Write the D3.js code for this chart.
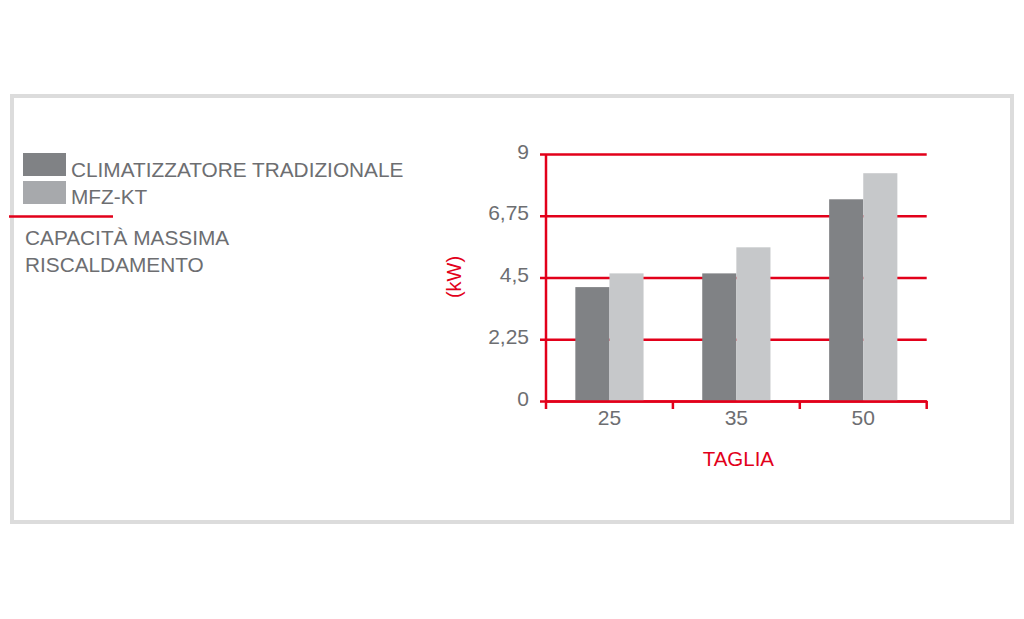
<!DOCTYPE html>
<html>
<head>
<meta charset="utf-8">
<script src="https://cdn.jsdelivr.net/npm/d3@7"></script>
<style>
  body { margin: 0; background: #fff; }
  svg { display: block; font-family: "Liberation Sans", Arial, sans-serif; }
</style>
</head>
<body>
<script>
// Data
const sizes = ["25", "35", "50"];
const seriesNames = ["CLIMATIZZATORE TRADIZIONALE", "MFZ-KT"];
const traditional = [4.15, 4.65, 7.35];
const mfzkt = [4.65, 5.6, 8.3];
const yTicks = [0, 2.25, 4.5, 6.75, 9];
const noteLines = ["CAPACITÀ MASSIMA", "RISCALDAMENTO"];

const rows = sizes.map((s, i) => ({ size: s, values: [traditional[i], mfzkt[i]] }));

// Dimensions
const width = 1024;
const height = 619;
const plotLeft = 546;
const plotRight = 926.7;
const plotTop = 154;
const plotBottom = 401;

const red = "#e2001a";
const grey = "#6d6e71";
const barColors = ["#808285", "#c6c8ca"];
const swatchColors = ["#808285", "#a7a9ac"];

// SCALE
const x0 = d3.scaleBand().domain(sizes).range([plotLeft, plotRight]).padding(0);
const x1 = d3.scaleBand().domain([0, 1]).range([0, x0.bandwidth()]).paddingInner(0).paddingOuter(0.86);
const y = d3.scaleLinear().domain([0, 9]).range([plotBottom, plotTop]);

const svg = d3.select("body").append("svg")
    .attr("width", width)
    .attr("height", height);

// FRAME
svg.append("rect")
    .attr("x", 12).attr("y", 96)
    .attr("width", 1000).attr("height", 426)
    .attr("fill", "none")
    .attr("stroke", "#dcdcdc")
    .attr("stroke-width", 4);

// GRIDLINES + Y LABELS
const yAxis = svg.append("g")
    .attr("transform", `translate(${plotLeft - 6},0)`)
    .call(d3.axisLeft(y)
        .tickValues(yTicks)
        .tickSize(-(plotRight - plotLeft + 6))
        .tickPadding(11)
        .tickFormat(d => String(d).replace(".", ",")));
yAxis.select(".domain").remove();
yAxis.selectAll(".tick line").attr("stroke", red).attr("stroke-width", 2.5);
yAxis.selectAll(".tick text")
    .attr("fill", grey)
    .attr("font-size", 21)
    .attr("dy", "0.2em");

// y axis line
svg.append("line")
    .attr("x1", plotLeft).attr("x2", plotLeft)
    .attr("y1", y(9)).attr("y2", y(0))
    .attr("stroke", red).attr("stroke-width", 2.5);

// BARS
svg.append("g")
    .selectAll("g")
    .data(rows)
    .join("g")
    .attr("transform", d => `translate(${x0(d.size)},0)`)
    .selectAll("rect")
    .data(d => d.values.map((v, i) => ({ i, v })))
    .join("rect")
    .attr("x", d => x1(d.i))
    .attr("width", x1.bandwidth())
    .attr("y", d => y(d.v))
    .attr("height", d => y(0) - y(d.v))
    .attr("fill", d => barColors[d.i]);

// X AXIS
const xAxis = svg.append("g")
    .attr("transform", `translate(0,${plotBottom})`)
    .call(d3.axisBottom(x0).tickSize(0).tickSizeOuter(0).tickPadding(9));
xAxis.select(".domain").attr("stroke", red).attr("stroke-width", 2.5);
xAxis.selectAll(".tick text").attr("fill", grey).attr("font-size", 21);

// boundary ticks
const bounds = sizes.map(s => x0(s)).concat([x0.range()[1]]);
svg.append("g")
    .selectAll("line")
    .data(bounds)
    .join("line")
    .attr("x1", d => d).attr("x2", d => d)
    .attr("y1", plotBottom).attr("y2", plotBottom + 8)
    .attr("stroke", red).attr("stroke-width", 2.5);

// AXIS TITLES
svg.append("text")
    .attr("x", (plotLeft + plotRight) / 2 + 2)
    .attr("y", 466)
    .attr("text-anchor", "middle")
    .attr("fill", red)
    .attr("font-size", 20.5)
    .text("TAGLIA");

svg.append("text")
    .attr("transform", `translate(461,277) rotate(-90)`)
    .attr("text-anchor", "middle")
    .attr("fill", red)
    .attr("font-size", 20)
    .text("(kW)");

// LEGEND
const legend = svg.append("g");
seriesNames.forEach((name, i) => {
    legend.append("rect")
        .attr("x", 23).attr("y", 153 + i * 28)
        .attr("width", 43).attr("height", 23)
        .attr("fill", swatchColors[i]);
    legend.append("text")
        .attr("x", 71).attr("y", 177 + i * 27)
        .attr("fill", grey)
        .attr("font-size", 20.8)
        .text(name);
});
legend.append("line")
    .attr("x1", 9).attr("x2", 113)
    .attr("y1", 216.5).attr("y2", 216.5)
    .attr("stroke", red).attr("stroke-width", 2.5);
noteLines.forEach((t, i) => {
    legend.append("text")
        .attr("x", 25).attr("y", 245 + i * 26.7)
        .attr("fill", grey)
        .attr("font-size", 20.8)
        .text(t);
});
</script>
</body>
</html>
